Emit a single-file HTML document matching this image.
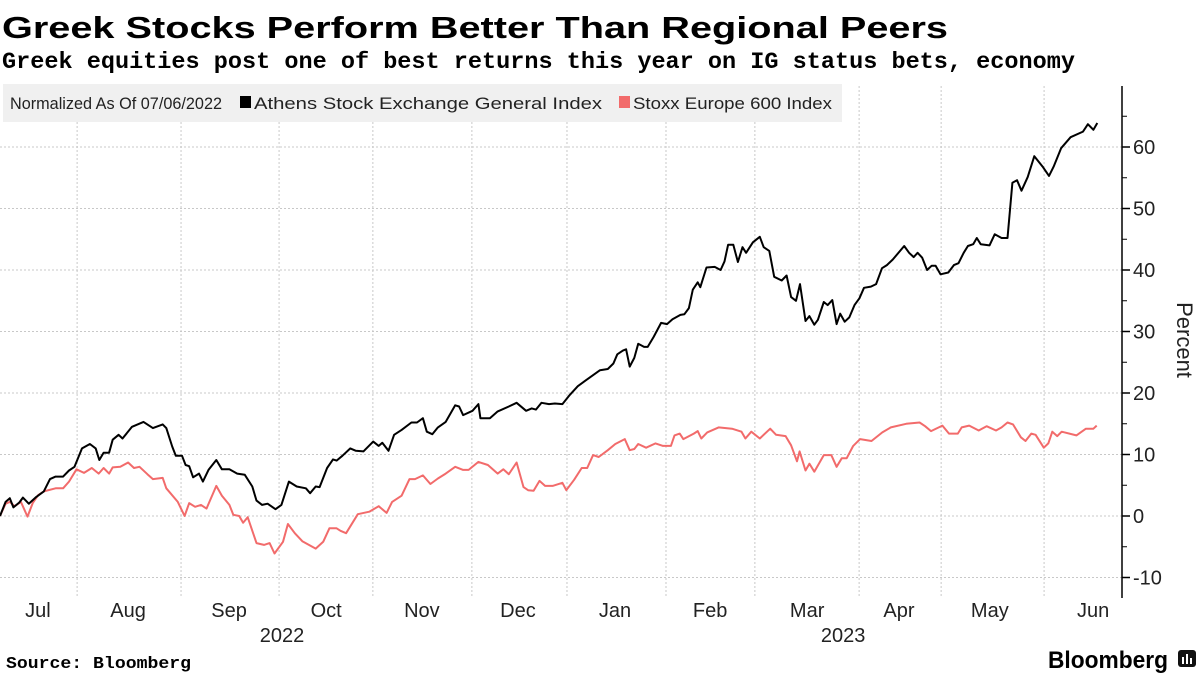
<!DOCTYPE html>
<html><head><meta charset="utf-8"><style>
html,body{margin:0;padding:0;background:#fff;}
svg{display:block;font-family:"Liberation Sans",sans-serif;}
</style></head><body>
<svg id="chart" width="1200" height="675" viewBox="0 0 1200 675">
<text x="2" y="38" font-size="31" font-weight="bold" textLength="946" lengthAdjust="spacingAndGlyphs">Greek Stocks Perform Better Than Regional Peers</text>
<text x="2" y="68" font-size="23" font-weight="bold" font-family="Liberation Mono, monospace" textLength="1073" lengthAdjust="spacingAndGlyphs">Greek equities post one of best returns this year on IG status bets, economy</text>
<g id="grid"></g>
<rect x="3" y="84" width="839" height="38" fill="#f0f0f0"/>
<text x="10" y="109" font-size="17" fill="#222" textLength="212" lengthAdjust="spacingAndGlyphs">Normalized As Of 07/06/2022</text>
<g><rect x="240" y="96" width="11" height="12" fill="#000"/><text x="254" y="109" font-size="17" fill="#222" textLength="348" lengthAdjust="spacingAndGlyphs">Athens Stock Exchange General Index</text></g>
<g><rect x="619" y="96" width="11" height="12" fill="#f26b6b"/><text x="633" y="109" font-size="17" fill="#222" textLength="199" lengthAdjust="spacingAndGlyphs">Stoxx Europe 600 Index</text></g>
<g id="axes"></g>
<g id="series"></g>
<text transform="translate(1177,340) rotate(90)" font-size="22" text-anchor="middle" fill="#222">Percent</text>
<text x="6" y="668" font-size="17" font-weight="bold" font-family="Liberation Mono, monospace" textLength="185" lengthAdjust="spacingAndGlyphs">Source: Bloomberg</text>
<text x="1048" y="668" font-size="24" font-weight="bold" textLength="120" lengthAdjust="spacingAndGlyphs">Bloomberg</text>
<g><rect x="1178" y="650" width="18" height="17" rx="3" fill="#111"/><rect x="1182" y="657" width="2" height="7" fill="#fff"/><rect x="1186" y="654" width="2" height="10" fill="#fff"/><rect x="1190" y="658" width="2" height="6" fill="#fff"/></g>
</svg>
<script>
const athensDays=[0,1.7,3.0,4.1,5.9,7.0,8.8,11.1,13.4,15.3,17.0,19.3,21.1,22.8,25.1,27.5,29.3,30.4,31.7,33.4,34.5,36.3,37.5,40.4,43.9,46.8,49.8,50.9,52.7,53.8,55.7,56.8,57.9,59.1,60.9,62.1,63.8,66.2,67.9,70.2,72.6,74.9,77.2,78.5,80.2,81.9,84.3,86.1,88.4,90.8,93.6,94.9,96.6,97.8,100.1,101.9,103.0,104.8,107.2,108.9,111.2,114.2,115.9,117.0,118.9,120.6,122.9,125.9,127.6,129.4,130.6,132.3,134.0,136.4,139.3,140.5,141.7,144.6,146.4,147.0,149.9,152.3,155.7,158.1,161.0,162.7,164.0,165.7,168.0,169.8,172.1,174.4,176.8,179.1,183.6,186,187.7,188.9,190.6,191.6,192.7,194.1,195.3,197.1,198.2,200,202.3,204.1,205.8,208.2,209.4,210.8,212,213.5,214.3,216.2,218.7,220.5,221.7,222.8,224.4,225.8,227.2,228.3,230.4,232.5,233.7,235.4,236.9,239.2,240.7,242.1,243.6,244.8,246.5,247.7,249.2,250.3,252.1,253.3,254.7,256,257.1,258.5,259.9,261.5,263,264.4,266.5,268.1,269.9,271.4,273.2,276.7,278.2,279.6,280.8,282.2,283.7,285.1,286.3,287.8,290.2,291.9,293.3,294.9,296.2,297.8,298.9,300.1,302.8,304.4,306.5,308.3,309.8,311.2,312.6,314.5,316.5,319.2,321,322.4,324.7,327.6,331.4,332.9,334.6,335.8];
const athensValues=[0,2.3,2.9,1.4,2.2,3.0,2.0,3.1,4.0,6.0,6.4,6.4,7.4,8.0,11.0,11.7,11.0,9.1,10.3,10.3,12.4,13.2,12.6,14.5,15.3,14.3,14.9,14.3,11.3,9.8,9.8,8.3,8.1,6.3,6.9,5.6,7.5,9.1,7.6,7.6,6.9,6.7,4.8,2.5,1.8,2.0,1.1,1.8,5.6,4.8,4.5,3.7,4.8,4.7,7.8,9.2,9.0,9.8,11.0,10.6,10.5,12.1,11.4,11.9,10.6,13.2,14.0,15.2,15.2,15.9,13.7,13.3,14.4,15.3,18.0,17.8,16.4,17.1,18.2,15.9,15.9,17.0,17.8,18.4,17.1,17.5,17.3,18.4,18.2,18.3,18.2,19.7,21.1,22.0,23.7,23.9,24.8,26.3,26.9,27.1,24.3,25.7,28.0,27.5,27.5,29.1,31.4,31.2,32.0,32.7,32.8,33.8,36.8,38.0,37.2,40.4,40.5,40.0,41.4,44.1,44.1,41.3,43.7,42.8,44.5,45.4,43.7,43.1,38.9,38.3,39.1,35.6,35.0,37.7,31.7,32.5,31.1,31.9,34.8,34.3,35.1,31.2,32.9,31.6,32.3,34.3,35.4,37.1,37.3,37.7,40.3,40.8,41.7,43.9,42.8,42.1,42.8,42.0,40.0,40.7,40.7,39.3,39.6,40.8,41.1,42.8,43.9,44.2,45.2,44.2,44.0,45.8,45.2,45.2,54.2,54.6,52.9,55.1,58.5,56.7,55.3,56.8,59.8,61.6,62.5,63.7,62.8,63.9];
const stoxxDays=[0,1.7,3.0,4.5,6.4,8.4,10.0,11.7,13.4,17.0,19.3,21.1,23.4,25.7,28.1,30.2,31.7,33.4,34.5,36.8,39.2,41.0,42.7,45.1,46.8,49.8,50.9,54.4,56.5,57.9,59.7,61.5,63.2,66.2,67.9,70.2,71.4,73.2,74.4,75.8,78.5,80.8,82.5,84.0,86.6,88.1,90.2,92.5,96.6,98.9,100.8,103.0,104.2,105.9,109.5,113.0,115.9,118.3,120.0,122.9,125.3,127.0,129.4,131.7,134.0,136.4,139.3,141.7,143.4,146.4,149.3,152.3,154.0,155.7,158.1,160.2,161.6,163.3,165.1,166.8,169.1,172.1,173.3,175.7,178.0,179.7,181.5,183.2,186,188.3,191.2,192.7,194.1,195.3,197.7,200.6,202.9,205.3,206.4,208,209.1,212.3,213.5,214.6,216.4,219.9,224,226.9,228.1,229.9,232.5,235.7,237.5,240.4,242.1,243.9,244.7,246.5,247.7,249.2,252.1,254.4,256,257.6,259.1,261.1,263.2,266.7,270,272.6,277.3,281.4,283.1,284.9,288.4,290.4,293.1,294.3,296.6,299.5,301.9,304.8,306.5,308.3,310,312.4,313.8,315.6,316.9,319.4,320.8,322,323.5,324.9,329.4,332.3,334.6,335.6];
const stoxxValues=[0,2.0,2.3,1.6,2.3,-0.1,2.1,3.4,4.0,4.5,4.5,5.6,7.6,7.0,7.8,6.9,7.8,6.9,7.9,8.0,8.7,7.8,8.0,6.8,6.0,6.2,4.5,2.3,0,2.1,1.5,1.8,1.2,4.9,3.3,1.8,0.2,0,-1.1,-0.2,-4.4,-4.7,-4.4,-6.1,-4.2,-1.3,-2.8,-4.1,-5.3,-4.2,-2.0,-2.0,-2.4,-2.8,0.3,0.7,1.6,0.5,2.3,3.3,6.0,6.0,6.6,5.2,6.1,6.9,8.0,7.5,7.5,8.8,8.3,6.9,7.6,6.8,8.7,4.7,4.2,4.1,5.7,4.9,4.9,5.4,4.2,5.9,7.8,7.8,9.9,9.6,10.7,11.7,12.5,10.7,10.9,11.7,11.1,11.8,11.4,11.4,13.1,13.4,12.5,13.4,13.8,12.6,13.6,14.4,14.2,13.7,12.6,13.7,12.6,14.2,13.2,13.0,11.5,8.9,10.5,7.4,8.5,7.2,9.9,9.9,8.0,9.4,9.4,11.4,12.5,12.2,13.6,14.4,15.0,15.2,14.6,13.8,14.7,13.4,13.4,14.4,14.7,13.9,14.6,13.9,14.4,15.2,14.9,12.8,12.2,13.4,13.2,11.1,11.8,13.7,13.0,13.7,13.1,14.2,14.2,14.7];
const yTicks=[-10,0,10,20,30,40,50,60];
const monthLabels=["Jul","Aug","Sep","Oct","Nov","Dec","Jan","Feb","Mar","Apr","May","Jun"];
const monthLabelDays=[11.6,39.2,70.1,99.8,129.1,158.5,188.2,217.3,247,275.1,302.9,334.5];
const gridDays=[23.6,55.4,85.4,114.1,144.4,173.5,203.8,231,262.9,288,319.5];
const yearLabels=["2022","2023"];
const yearLabelDays=[86.3,258];

const NS="http://www.w3.org/2000/svg";
const X0=0,X1=1098,D0=0,D1=336;
const x=d=>X0+(d-D0)/(D1-D0)*(X1-X0);
const y=v=>516-6.15*v;
const AX=1122,TOP=86,BOT=598;
function mk(tag,attrs,parent){const e=document.createElementNS(NS,tag);for(const k in attrs)e.setAttribute(k,attrs[k]);parent.appendChild(e);return e;}
const grid=document.getElementById('grid'),axes=document.getElementById('axes'),series=document.getElementById('series');
yTicks.forEach(t=>{
  const l=mk('line',{x1:0,x2:AX,y1:y(t),y2:y(t),stroke:'#c8c8c8','stroke-dasharray':'2,2','stroke-width':1},grid);
  
  
  const tk=mk('line',{x1:AX,x2:AX+8,y1:y(t),y2:y(t),stroke:'#000','stroke-width':1.5},axes);
  
  
  const tx=mk('text',{x:AX+11,y:y(t)+7,'font-size':20,fill:'#222'},axes);
  tx.textContent=t;
  
  
});
for(let v=-5;v<=65;v+=10){
  const m=mk('line',{x1:AX,x2:AX+5,y1:y(v),y2:y(v),stroke:'#000','stroke-width':1},axes);
  
  
}
gridDays.forEach(d=>{
  const l=mk('line',{x1:x(d),x2:x(d),y1:TOP,y2:BOT,stroke:'#c8c8c8','stroke-dasharray':'2,2','stroke-width':1},grid);
  
  
});
const ax=mk('line',{x1:AX,x2:AX,y1:TOP,y2:BOT,stroke:'#000','stroke-width':1.5},axes);


monthLabels.forEach((m,i)=>{
  const t=mk('text',{x:x(monthLabelDays[i]),y:617,'font-size':20,fill:'#222','text-anchor':'middle'},axes);
  t.textContent=m;
  
  
});
yearLabels.forEach((m,i)=>{
  const t=mk('text',{x:x(yearLabelDays[i]),y:642,'font-size':20,fill:'#222','text-anchor':'middle'},axes);
  t.textContent=m;
  
  
});
function line(days,vals,color,name){
  const d=days.map((t,i)=>(i?'L':'M')+x(t).toFixed(1)+','+y(vals[i]).toFixed(1)).join('');
  const p=mk('path',{d:d,fill:'none',stroke:color,'stroke-width':2,'stroke-linejoin':'round'},series);
  
  
}
line(stoxxDays,stoxxValues,'#f26b6b','stoxx-europe-600-line');
line(athensDays,athensValues,'#000','athens-general-index-line');
</script>
</body></html>
